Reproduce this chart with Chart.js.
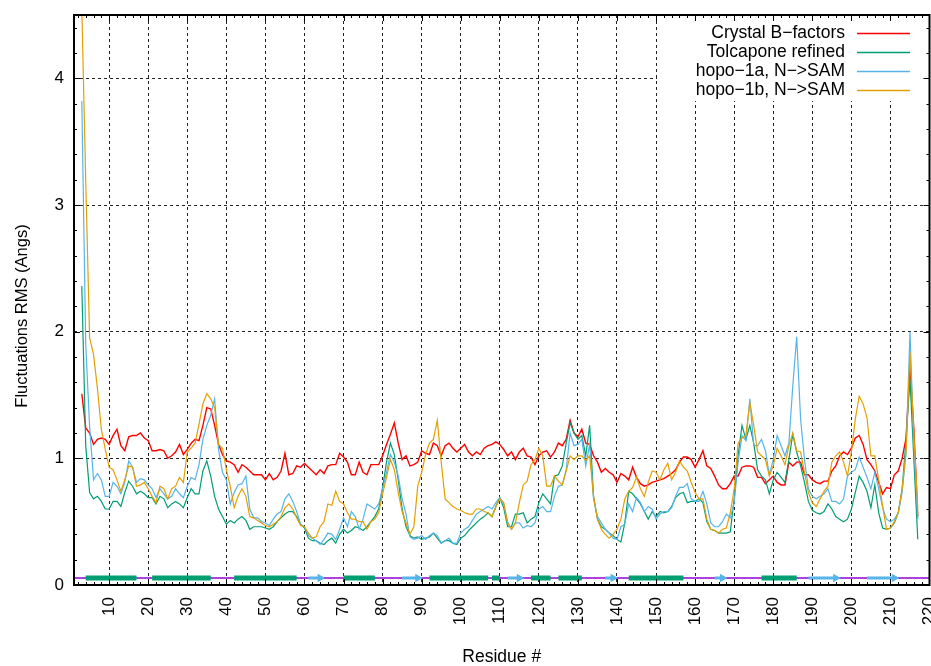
<!DOCTYPE html>
<html>
<head>
<meta charset="utf-8">
<title>Fluctuations RMS</title>
<script src="https://cdn.jsdelivr.net/npm/chart.js@4.4.0/dist/chart.umd.min.js"></script>
<style>
  html, body { margin: 0; padding: 0; background: #fff; }
  #wrap { width: 931px; height: 666px; }
</style>
</head>
<body>
<div id="wrap"><canvas id="chart" width="931" height="666"></canvas></div>
<script>
// Donnees (residus 3 a 217)
const firstResidue = 3;

const crystal = [
  1.51,1.24,1.20,1.11,1.15,1.16,1.15,1.11,1.18,1.23, 1.10,1.06,1.17,1.18,1.18,1.20,1.16,1.14,1.06,1.06,
  1.07,1.06,1.00,1.02,1.05,1.11,1.03,1.07,1.12,1.15, 1.14,1.26,1.40,1.39,1.26,1.11,1.03,0.98,0.97,0.95, 0.89,
  0.95,0.93,0.90,0.87,0.87,0.87,0.83,0.88,0.83,0.85, 0.90,1.04,0.87,0.88,0.94,0.93,0.96,0.93,0.90,0.87,
  0.91,0.88,0.94,0.95,0.95,1.04,1.01,0.97,0.87,0.87, 0.97,0.89,0.87,0.95,0.95,0.95,1.02,1.11,1.19,1.28, 1.12,0.99,1.02,
  0.94,0.95,0.97,1.06,1.04,1.03,1.12,1.10,1.02,1.10, 1.12,1.08,1.05,1.08,1.11,1.05,1.02,1.05,1.03,1.08,
  1.10,1.11,1.13,1.11,1.07,1.02,1.05,0.99,1.05,1.08, 1.02,1.01,0.95,1.02,1.05,1.06,1.01,1.05,1.12,1.10, 1.15,1.30,1.20,
  1.17,1.23,1.12,1.11,1.02,0.97,0.89,0.92,0.89,0.87, 0.81,0.88,0.86,0.83,0.93,0.85,0.80,0.78,0.79,0.81,
  0.82,0.83,0.84,0.86,0.88,0.91,0.97,1.01,1.01,0.99, 0.93,0.99,1.06,0.94,0.92,0.86,0.79,0.76,0.76,0.80, 0.86,0.86,0.93,
  0.94,0.94,0.93,0.85,0.85,0.80,0.83,0.86,0.81,0.79, 0.79,0.97,0.94,0.97,0.97,0.87,0.87,0.83,0.81,0.80,
  0.82,0.82,0.90,0.94,1.02,1.05,1.03,1.08,1.16,1.18, 1.11,0.99,0.95,0.90,0.81,0.72,0.77,0.76,0.87,0.90, 1.00,1.16,1.72,1.23,0.54
];

const tolcapone = [
  2.36,1.10,0.73,0.68,0.70,0.66,0.60,0.60,0.66,0.66, 0.62,0.73,0.82,0.78,0.72,0.74,0.72,0.69,0.69,0.64,
  0.70,0.68,0.61,0.64,0.66,0.64,0.61,0.69,0.76,0.72, 0.72,0.90,0.98,0.86,0.70,0.60,0.54,0.48,0.51,0.49, 0.52,
  0.54,0.51,0.44,0.46,0.46,0.46,0.45,0.44,0.46,0.50, 0.53,0.56,0.58,0.58,0.54,0.48,0.45,0.37,0.35,0.35,
  0.33,0.32,0.35,0.37,0.33,0.40,0.44,0.41,0.43,0.46, 0.45,0.43,0.46,0.50,0.54,0.60,0.77,0.97,1.12,1.03, 0.83,0.60,0.46,
  0.39,0.37,0.38,0.36,0.37,0.38,0.41,0.37,0.33,0.35, 0.35,0.33,0.32,0.37,0.39,0.43,0.46,0.49,0.52,0.54,
  0.57,0.54,0.62,0.69,0.61,0.46,0.46,0.56,0.56,0.57, 0.49,0.52,0.54,0.65,0.72,0.68,0.64,0.86,0.87,0.94, 1.12,1.28,1.20,
  1.15,1.18,1.02,1.26,0.70,0.52,0.46,0.44,0.41,0.39, 0.36,0.34,0.49,0.74,0.72,0.68,0.64,0.58,0.52,0.58,
  0.54,0.58,0.57,0.58,0.62,0.69,0.72,0.73,0.65,0.66, 0.66,0.68,0.65,0.50,0.44,0.43,0.41,0.41,0.41,0.42, 0.68,1.02,1.26,
  1.15,1.26,1.12,0.91,0.86,0.83,0.72,0.83,0.89,0.85, 0.81,0.99,1.19,1.05,0.94,0.81,0.66,0.59,0.57,0.56,
  0.58,0.64,0.60,0.54,0.52,0.50,0.52,0.60,0.73,0.86, 0.81,0.74,0.61,0.79,0.57,0.45,0.44,0.45,0.49,0.57, 0.76,1.15,1.63,0.99,0.36
];

const hopo1a = [
  3.82,1.90,1.25,0.83,0.88,0.83,0.70,0.70,0.81,0.78, 0.72,0.81,0.98,0.93,0.81,0.84,0.83,0.79,0.76,0.69,
  0.76,0.72,0.68,0.70,0.76,0.72,0.69,0.78,0.85,0.83, 0.95,1.15,1.26,1.34,1.47,1.07,0.89,0.83,0.64,0.73, 0.79,
  0.80,0.86,0.60,0.53,0.53,0.50,0.49,0.47,0.52,0.56, 0.58,0.68,0.72,0.66,0.58,0.48,0.46,0.39,0.37,0.35,
  0.32,0.36,0.41,0.40,0.36,0.44,0.53,0.46,0.58,0.54, 0.44,0.52,0.64,0.62,0.60,0.64,0.76,0.89,1.03,0.97, 0.86,0.68,0.56,
  0.38,0.36,0.37,0.39,0.36,0.39,0.41,0.39,0.33,0.35, 0.37,0.33,0.33,0.41,0.44,0.46,0.51,0.56,0.58,0.60,
  0.62,0.60,0.65,0.69,0.64,0.50,0.44,0.49,0.49,0.45, 0.47,0.46,0.49,0.60,0.62,0.58,0.58,0.70,0.78,0.79, 0.91,1.20,1.10,
  1.11,1.15,0.94,1.11,0.68,0.54,0.49,0.44,0.41,0.37, 0.36,0.46,0.48,0.64,0.58,0.69,0.65,0.58,0.62,0.60,
  0.52,0.56,0.58,0.58,0.61,0.70,0.77,0.77,0.80,0.68, 0.66,0.66,0.74,0.64,0.49,0.46,0.46,0.50,0.56,0.53, 0.65,0.97,1.18,
  1.14,1.47,1.10,1.10,1.15,1.06,0.87,0.99,1.18,1.10, 1.02,1.12,1.57,1.96,1.31,0.99,0.76,0.70,0.68,0.70,
  0.72,0.76,0.66,0.66,0.64,0.68,0.86,0.89,0.91,1.01, 0.93,0.85,0.76,0.89,0.76,0.61,0.52,0.50,0.52,0.57, 0.73,1.05,2.00,1.10,0.52
];

const hopo1b = [
  4.55,3.20,1.95,1.82,1.55,1.23,1.07,0.93,0.91,0.83, 0.74,0.83,0.94,0.93,0.78,0.79,0.81,0.76,0.70,0.65,
  0.78,0.76,0.68,0.76,0.78,0.85,0.81,1.05,1.08,1.12, 1.27,1.43,1.51,1.47,1.40,1.11,1.08,0.91,0.78,0.61, 0.70,
  0.76,0.70,0.54,0.53,0.51,0.49,0.47,0.46,0.48,0.50, 0.54,0.61,0.64,0.60,0.53,0.47,0.46,0.41,0.37,0.38,
  0.46,0.50,0.64,0.63,0.74,0.66,0.64,0.57,0.52,0.52, 0.50,0.50,0.44,0.50,0.52,0.57,0.72,0.85,0.99,0.91, 0.73,0.58,0.49,
  0.40,0.46,0.78,0.89,1.03,1.12,1.15,1.30,0.97,0.68, 0.65,0.62,0.60,0.59,0.57,0.56,0.56,0.60,0.60,0.58,
  0.57,0.54,0.62,0.68,0.65,0.49,0.44,0.49,0.65,0.79, 0.82,0.95,0.99,1.08,1.02,0.78,0.78,0.86,0.82,0.79, 0.90,1.02,0.99,
  1.02,1.02,0.98,1.02,0.70,0.52,0.44,0.40,0.37,0.40, 0.44,0.52,0.68,0.74,0.77,0.85,0.76,0.70,0.81,0.90,
  0.89,0.83,0.91,0.96,0.83,0.89,0.98,0.93,0.90,0.81, 0.73,0.68,0.68,0.52,0.44,0.43,0.41,0.44,0.45,0.57, 0.76,1.12,1.16,
  1.18,1.44,1.26,1.05,1.02,0.99,0.86,0.94,1.08,1.02, 0.95,1.10,1.20,1.06,1.05,0.89,0.73,0.65,0.62,0.68,
  0.74,0.78,0.97,1.02,1.05,0.97,0.86,1.05,1.31,1.49, 1.43,1.32,1.02,1.02,0.83,0.62,0.44,0.45,0.50,0.57, 0.76,1.05,1.84,1.18,0.61
];

// Structure secondaire : helices (barres) et brins (fleches), en residus
const helices = [[4,17],[21,36],[42,58],[70,78],[92,107],[108,110],[118,123],[125,131],[143,157],[177,186]];
const strands = [[61,65],[85,90],[112,116],[137,140],[165,168],[189,197],[204,212]];
const ssLevel = 0.055;

// Graduations
const xTickValues = [10,20,30,40,50,60,70,80,90,100,110,120,130,140,150,160,170,180,190,200,210,220];
const yTickValues = [0,1,2,3,4];

const residues = crystal.map((_, i) => firstResidue + i);
const FONT = 'Liberation Sans';

function toPoints(values) {
    return values.map((v, i) => ({x: residues[i], y: v}));
}

const seriesSets = [
    {label: 'Crystal B\u2212factors', data: toPoints(crystal), borderColor: '#ff0000', borderWidth: 1.4, order: 4},
    {label: 'Tolcapone refined', data: toPoints(tolcapone), borderColor: '#009e73', borderWidth: 1.2, order: 3},
    {label: 'hopo\u22121a, N\u2212>SAM', data: toPoints(hopo1a), borderColor: '#56b4e9', borderWidth: 1.2, order: 2},
    {label: 'hopo\u22121b, N\u2212>SAM', data: toPoints(hopo1b), borderColor: '#e69f00', borderWidth: 1.2, order: 1}
].map(d => ({...d, pointRadius: 0, tension: 0, fill: false}));

// Ligne de base violette + helices + brins
const ssSets = [];
ssSets.push({
    data: [{x: 1, y: ssLevel}, {x: 220, y: ssLevel}],
    borderColor: '#9400d3', borderWidth: 1.5, pointRadius: 0, order: 8
});
helices.forEach(h => ssSets.push({
    data: [{x: h[0], y: ssLevel}, {x: h[1], y: ssLevel}],
    borderColor: '#009e73', borderWidth: 5, borderCapStyle: 'butt', pointRadius: 0, order: 7
}));
strands.forEach(s => ssSets.push({
    data: [{x: s[0], y: ssLevel}, {x: s[1] - 1, y: ssLevel}],
    borderColor: '#56b4e9', backgroundColor: '#56b4e9', borderWidth: 3, borderCapStyle: 'butt',
    pointRadius: [0, 5], pointStyle: 'triangle', rotation: 90,
    pointBackgroundColor: '#56b4e9', pointBorderColor: '#56b4e9', pointBorderWidth: 0, order: 6
}));

// Cadre, graduations interieures, titre Y et legende facon gnuplot
const gnuplotFrame = {
    id: 'gnuplotFrame',
    afterDatasetsDraw(chart) {
        const ctx = chart.ctx;
        const area = chart.chartArea;
        const xs = chart.scales.x;
        const ys = chart.scales.y;
        ctx.save();

        // Fond blanc de la legende
        ctx.fillStyle = '#fff';
        ctx.fillRect(657, area.top, area.right - 657, 101 - area.top);

        ctx.font = '17.5px "' + FONT + '"';
        ctx.textAlign = 'right';
        ctx.textBaseline = 'middle';
        seriesSets.forEach((d, i) => {
            const y = 33.5 + i * 19;
            ctx.fillStyle = '#000';
            ctx.fillText(d.label, 845, y);
            ctx.strokeStyle = d.borderColor;
            ctx.lineWidth = 1.5;
            ctx.beginPath();
            ctx.moveTo(857, y);
            ctx.lineTo(910, y);
            ctx.stroke();
        });

        // Titre de l'axe Y
        ctx.save();
        ctx.translate(22, 316);
        ctx.rotate(-Math.PI / 2);
        ctx.textAlign = 'center';
        ctx.font = '16.5px "' + FONT + '"';
        ctx.fillText('Fluctuations RMS (Angs)', 0, 0);
        ctx.restore();

        // Graduations
        ctx.strokeStyle = '#000';
        ctx.lineWidth = 1;
        ctx.beginPath();
        for (let v = 2; v < 220; v += 2) {
            const px = Math.round(xs.getPixelForValue(v)) + 0.5;
            const len = v % 10 === 0 ? 6 : 3;
            ctx.moveTo(px, area.bottom); ctx.lineTo(px, area.bottom - len);
            ctx.moveTo(px, area.top); ctx.lineTo(px, area.top + len);
        }
        for (let i = 1; i < 23; i++) {
            const py = Math.round(ys.getPixelForValue(i * 0.2)) + 0.5;
            const len = i % 5 === 0 ? 6 : 3;
            ctx.moveTo(area.left, py); ctx.lineTo(area.left + len, py);
            ctx.moveTo(area.right, py); ctx.lineTo(area.right - len, py);
        }
        ctx.stroke();

        // Cadre
        ctx.lineWidth = 2;
        ctx.strokeRect(area.left, area.top, area.right - area.left, area.bottom - area.top);
        ctx.restore();
    }
};

const gridOpts = {color: '#222', lineWidth: 1, drawTicks: false};
const tickFont = {family: FONT, size: 17};

new Chart(document.getElementById('chart').getContext('2d'), {
    type: 'line',
    data: {datasets: [...seriesSets, ...ssSets]},
    options: {
        responsive: false,
        animation: false,
        layout: {autoPadding: false, padding: {top: 15, right: 1.5, left: 0, bottom: 0}},
        plugins: {
            legend: {display: false},
            tooltip: {enabled: false}
        },
        scales: {
            x: {
                type: 'linear',
                min: 1,
                max: 220,
                afterBuildTicks: s => { s.ticks = xTickValues.map(v => ({value: v})); },
                afterFit: s => {
                    s.height = 81;
                    s.paddingLeft = 0;
                    s.paddingRight = 0;
                },
                grid: gridOpts,
                border: {display: false, dash: [3, 3]},
                ticks: {
                    autoSkip: false, minRotation: 90, maxRotation: 90, padding: 12,
                    color: '#000', font: tickFont
                },
                title: {
                    display: true, text: 'Residue #', color: '#000',
                    font: {family: FONT, size: 17.5, lineHeight: 1}, padding: {top: 0, bottom: 0}
                }
            },
            y: {
                type: 'linear',
                min: 0,
                max: 4.5,
                afterBuildTicks: s => { s.ticks = yTickValues.map(v => ({value: v})); },
                afterFit: s => {
                    s.width = 74;
                    s.paddingTop = 0;
                    s.paddingBottom = 0;
                },
                grid: gridOpts,
                border: {display: false, dash: [3, 3]},
                ticks: {padding: 10, color: '#000', font: tickFont}
            }
        }
    },
    plugins: [gnuplotFrame]
});
</script>
</body>
</html>
